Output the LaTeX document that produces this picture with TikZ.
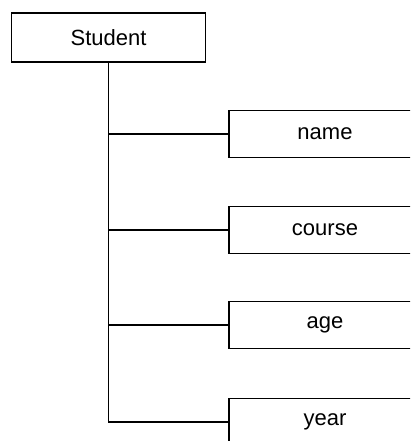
\documentclass[tikz,border=0pt]{standalone}
\usepackage{fontspec}
\setmainfont{Liberation Sans}
\begin{document}
\begin{tikzpicture}[x=1pt,y=-1pt,
  entity/.style={draw,line width=1.2pt,minimum width=194pt,minimum height=49pt,inner sep=0pt,font=\fontsize{22}{26}\selectfont},
  field/.style={draw,line width=1.2pt,minimum width=192pt,minimum height=47pt,inner sep=0pt,font=\fontsize{22}{26}\selectfont},
  link/.style={line width=1.2pt}]
\useasboundingbox (0,0) rectangle (410,441);
\clip (0,0) rectangle (410,441);
\node[entity] (student) at (108.5,37.5) {Student};
\node[field] (name)   at (325,134) {name};
\node[field] (course) at (325,230) {course};
\node[field] (age)    at (325,325) {age};
\node[field] (year)   at (325,422) {year};
% trunk with the last branch
\draw[link] (student.south) -- (student.south |- year.west) -- (year.west);
% remaining branches
\foreach \f in {name,course,age}
  \draw[link] (student.south |- \f.west) -- (\f.west);
\end{tikzpicture}
\end{document}
